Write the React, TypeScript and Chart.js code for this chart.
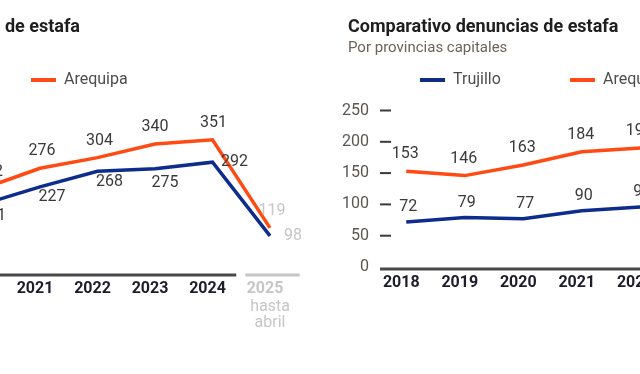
import React, { useEffect, useRef } from "react";
import { Chart, registerables } from "chart.js";

Chart.register(...registerables);

const FONT = "Roboto, 'Noto Sans', Arial, sans-serif";
const BLUE = "#0d2c8c";
const ORANGE = "#ff4a14";
const GREY_LIGHT = "#c6c6c6";
const LABEL_DARK = "#3a3a3a";

const titleText = "Comparativo denuncias de estafa";
const subtitleText = "Por provincias capitales";
const seriesNames = ["Trujillo", "Arequipa"];

// left (cropped) chart
const leftYears = ["2020", "2021", "2022", "2023", "2024", "2025"];
const leftBlue = [181, 227, 268, 275, 292, 98];
const leftOrange = [222, 276, 304, 340, 351, 119];
const leftNote = ["hasta", "abril"];
const leftYMax = 400;

// right chart
const rightYears = ["2018", "2019", "2020", "2021", "2022"];
const rightBlue = [72, 79, 77, 90, 96];
const rightOrange = [153, 146, 163, 184, 190];
const rightYMax = 250;
const rightYStep = 50;

const pick = (v: any, i: number) => (Array.isArray(v) ? v[i] : v);

const decor = {
  id: "decor",
  beforeDatasetsDraw(chart: any, _a: any, o: any) {
    const { ctx, chartArea: ca } = chart;
    const xs = chart.scales.x;
    const n = chart.data.labels.length;
    const step = xs.getPixelForTick(1) - xs.getPixelForTick(0);
    const y = ca.bottom + o.axisDy;
    const greyIdx = o.greyFrom ?? n;
    ctx.save();
    ctx.lineWidth = 3;
    ctx.strokeStyle = "#4a4a4a";
    const darkEnd = greyIdx < n ? xs.getPixelForTick(greyIdx) - step / 2 - 5 : ca.right + 10;
    ctx.beginPath();
    ctx.moveTo(ca.left + 3, y);
    ctx.lineTo(darkEnd, y);
    ctx.stroke();
    if (greyIdx < n) {
      ctx.strokeStyle = GREY_LIGHT;
      ctx.beginPath();
      ctx.moveTo(xs.getPixelForTick(greyIdx) - step / 2 + 4, y);
      ctx.lineTo(ca.right + 1, y);
      ctx.stroke();
    }
    if (o.dashes) {
      const ys = chart.scales.y;
      ctx.strokeStyle = "#3a3a3a";
      ctx.lineWidth = 2;
      ys.ticks.forEach((t: any) => {
        if (t.value === 0) return;
        const py = ys.getPixelForValue(t.value);
        ctx.beginPath();
        ctx.moveTo(ca.left + 3, py);
        ctx.lineTo(ca.left + 14, py);
        ctx.stroke();
      });
    }
    ctx.restore();
  },
  afterDatasetsDraw(chart: any, _a: any, o: any) {
    const { ctx, chartArea: ca } = chart;
    const xs = chart.scales.x;
    const n = chart.data.labels.length;
    const greyIdx = o.greyFrom ?? n;
    ctx.save();
    // data labels
    ctx.font = `16px ${FONT}`;
    ctx.textAlign = "center";
    ctx.textBaseline = "middle";
    chart.data.datasets.forEach((ds: any, di: number) => {
      const meta = chart.getDatasetMeta(di);
      const off = o.offsets[di];
      meta.data.forEach((pt: any, i: number) => {
        ctx.fillStyle = i >= greyIdx ? GREY_LIGHT : LABEL_DARK;
        ctx.fillText(String(ds.data[i]), pt.x + pick(off.dx, i), pt.y + pick(off.dy, i));
      });
    });
    // note under the last tick
    if (o.note && greyIdx < n) {
      ctx.fillStyle = GREY_LIGHT;
      const px = xs.getPixelForTick(greyIdx);
      o.note.forEach((t: string, k: number) => ctx.fillText(t, px, ca.bottom + 34 + k * 16));
    }
    // title & subtitle
    ctx.textAlign = "left";
    ctx.font = `bold 18px ${FONT}`;
    ctx.fillStyle = "#1e1e1e";
    const tw = ctx.measureText(o.title).width;
    const tx = o.titleRight != null ? o.titleRight - tw : o.titleLeft;
    ctx.fillText(o.title, tx, 27);
    ctx.font = `15px ${FONT}`;
    ctx.fillStyle = "#6e6259";
    ctx.fillText(o.subtitle, tx, 48);
    // legend
    chart.data.datasets.forEach((ds: any, di: number) => {
      const lx = o.legendX[di];
      ctx.strokeStyle = ds.borderColor;
      ctx.lineWidth = 4;
      ctx.beginPath();
      ctx.moveTo(lx, 80);
      ctx.lineTo(lx + 25, 80);
      ctx.stroke();
      ctx.font = `16px ${FONT}`;
      ctx.fillStyle = "#4d4d4d";
      ctx.fillText(ds.label, lx + 33, 80);
    });
    ctx.restore();
  },
};

function makeConfig(p: any) {
  const ds = (label: string, data: number[], color: string) => ({
    label,
    data,
    borderColor: color,
    backgroundColor: color,
    borderWidth: 3.5,
    pointRadius: 0,
    tension: 0,
  });
  return {
    type: "line",
    data: {
      labels: p.labels,
      datasets: [ds(seriesNames[0], p.blue, BLUE), ds(seriesNames[1], p.orange, ORANGE)],
    },
    options: {
      responsive: false,
      animation: false,
      devicePixelRatio: 1,
      layout: { padding: p.padding },
      plugins: {
        legend: { display: false },
        title: { display: false },
        tooltip: { enabled: false },
        decor: p.decor,
      },
      scales: {
        x: {
          type: "category",
          offset: true,
          grid: { display: false, drawTicks: false },
          border: { display: false },
          ticks: {
            font: { family: FONT, size: 16, weight: "bold" },
            color: (c: any) => (c.index >= (p.decor.greyFrom ?? 99) ? GREY_LIGHT : "#1c1c2a"),
            padding: 6.4,
            labelOffset: -5,
            maxRotation: 0,
            autoSkip: false,
          },
          afterFit: (s: any) => {
            s.height = p.xHeight;
          },
        },
        y: {
          display: p.showY,
          min: 0,
          max: p.yMax,
          ticks: { stepSize: p.yStep, font: { family: FONT, size: 16 }, color: "#5b5650", padding: 8 },
          grid: { display: false, drawTicks: false },
          border: { display: false },
          afterFit: (s: any) => {
            if (p.yWidth) s.width = p.yWidth;
          },
        },
      },
    },
    plugins: [decor],
  };
}

function LineChart({ p }: { p: any }) {
  const ref = useRef<HTMLCanvasElement | null>(null);
  useEffect(() => {
    const chart = new Chart(ref.current as any, makeConfig(p) as any);
    return () => chart.destroy();
  }, []);
  return (
    <canvas
      ref={ref}
      width={p.w}
      height={p.h}
      style={{ position: "absolute", left: p.left, top: 0, width: p.w, height: p.h }}
    />
  );
}

const leftParams = {
  labels: leftYears,
  blue: leftBlue,
  orange: leftOrange,
  left: -230,
  w: 550,
  h: 374,
  padding: { top: 121.2, left: 183.75, right: 21.25, bottom: 0 },
  xHeight: 101,
  showY: false,
  yMax: leftYMax,
  yStep: 50,
  decor: {
    title: titleText,
    subtitle: subtitleText,
    titleRight: 310,
    legendX: [111, 261],
    axisDy: 2,
    greyFrom: 5,
    note: leftNote,
    dashes: false,
    offsets: [
      { dx: [10, 12, 12, 10, 22, 23], dy: [12, 10, 11, 14, 0, 0] },
      { dx: [7, 2, 2, 0, 1, 2], dy: -17 },
    ],
  },
};

const rightParams = {
  labels: rightYears,
  blue: rightBlue,
  orange: rightOrange,
  left: 330,
  w: 360,
  h: 374,
  padding: { top: 110.5, left: 0, right: 20.5, bottom: 0 },
  xHeight: 107,
  showY: true,
  yWidth: 47,
  yMax: rightYMax,
  yStep: rightYStep,
  decor: {
    title: titleText,
    subtitle: subtitleText,
    titleLeft: 18,
    legendX: [90, 240],
    axisDy: 2,
    dashes: true,
    offsets: [
      { dx: 2, dy: -15 },
      { dx: -1, dy: -17 },
    ],
  },
};

export default function App() {
  return (
    <div
      style={{
        position: "fixed",
        left: 0,
        top: 0,
        width: 640,
        height: 374,
        overflow: "hidden",
        background: "#fff",
      }}
    >
      <LineChart p={leftParams} />
      <LineChart p={rightParams} />
    </div>
  );
}
